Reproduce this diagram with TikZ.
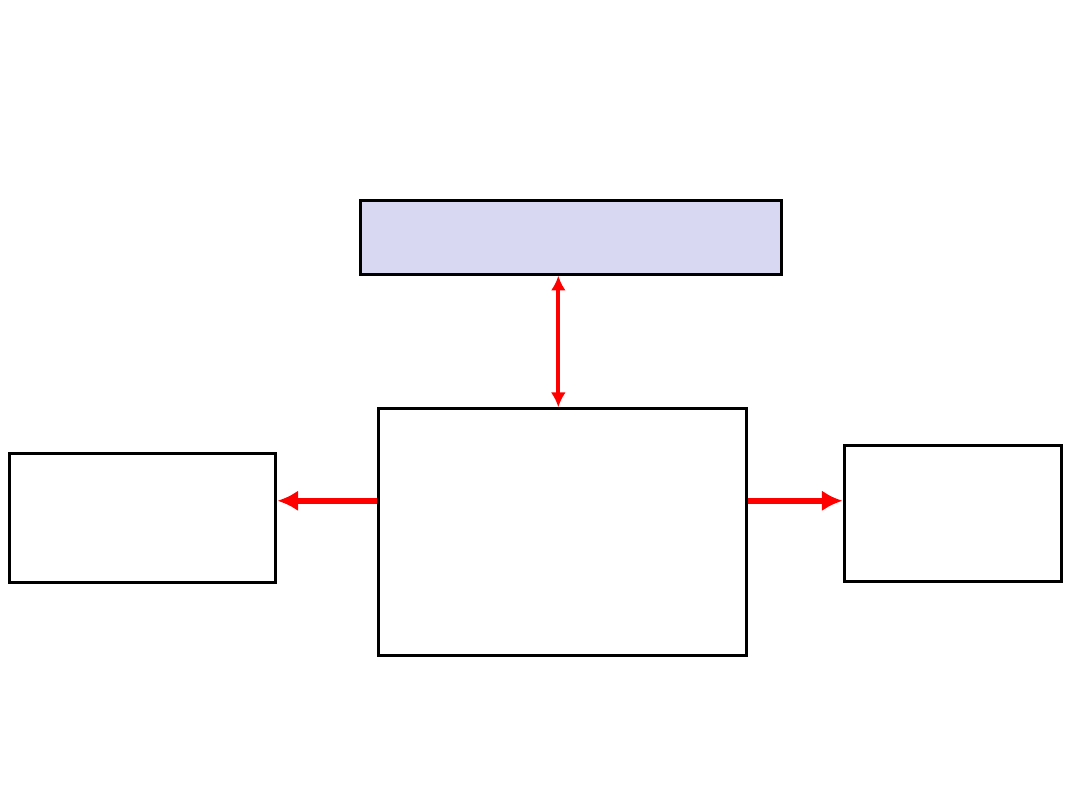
\documentclass[tikz,border=0pt]{standalone}
\usetikzlibrary{arrows.meta}

\definecolor{hdrfill}{RGB}{216,216,243}
\definecolor{linkred}{RGB}{255,0,0}

\tikzset{
  blk/.style={draw=black, line width=1pt, rectangle, inner sep=0pt},
  link/.style={linkred, line width=2pt, -{Latex[length=7pt,width=7pt]}},
  duplex/.style={linkred, line width=1.3pt, {Latex[length=5pt,width=5pt]}-{Latex[length=5pt,width=5pt]}}
}

\begin{document}
\begin{tikzpicture}

  \useasboundingbox (0,0) rectangle (12.8,9.6);

  % boxes
  \node[blk, fill=hdrfill, minimum width=4.98cm, minimum height=0.87cm] (top) at (6.768,6.786) {};
  \node[blk, minimum width=4.37cm, minimum height=2.92cm] (mid) at (6.667,3.295) {};
  \node[blk, minimum width=3.16cm, minimum height=1.52cm] (left) at (1.689,3.461) {};
  \node[blk, minimum width=2.58cm, minimum height=1.62cm] (right) at (11.295,3.514) {};

  % links
  \draw[duplex] ([xshift=-0.05cm]mid.north) -- ([xshift=-0.05cm]mid.north |- top.south);
  \draw[link] ([yshift=0.37cm]mid.west) -- ([yshift=0.37cm]mid.west -| left.east);
  \draw[link] ([yshift=0.37cm]mid.east) -- ([yshift=0.37cm]mid.east -| right.west);

\end{tikzpicture}
\end{document}
